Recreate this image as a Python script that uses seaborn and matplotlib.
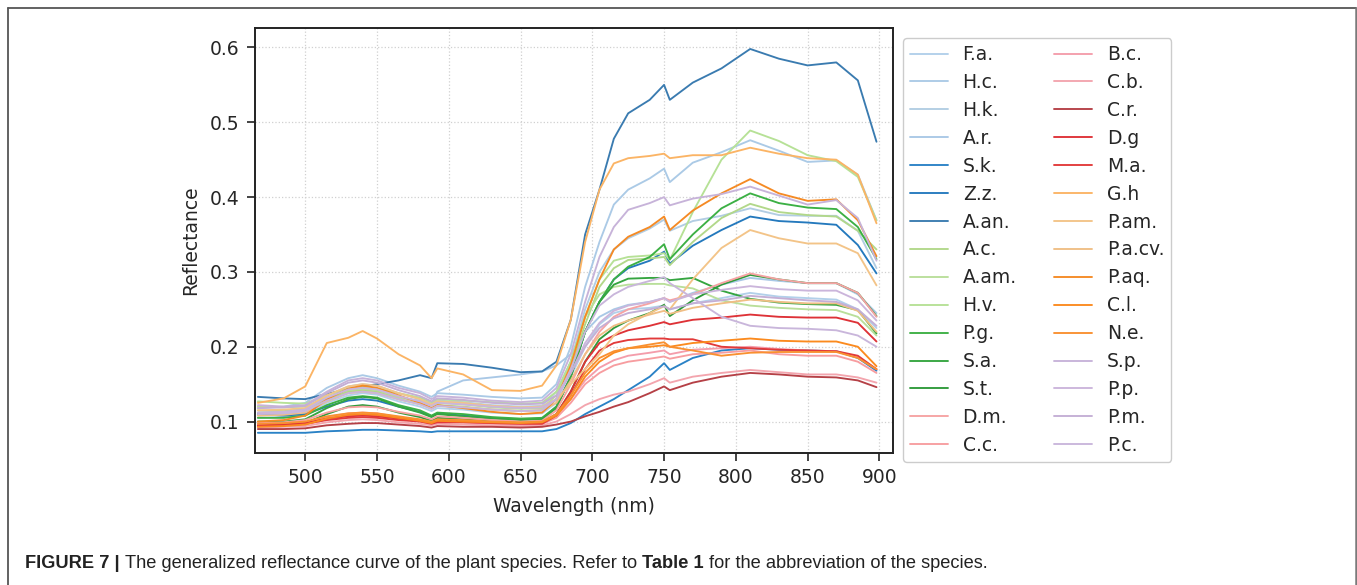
import numpy as np
import pandas as pd
import matplotlib
matplotlib.use("Agg")
import matplotlib.pyplot as plt
import seaborn as sns
from matplotlib.lines import Line2D

# ---------------- data ----------------
wavelength = [467, 485, 500, 515, 530, 540, 550, 565, 580, 588, 592, 610, 630, 650, 665,
              675, 685, 695, 705, 715, 725, 740, 750, 754, 770, 790, 810, 830, 850, 870, 885, 898]

species = ["F.a.", "H.c.", "H.k.", "A.r.", "S.k.", "Z.z.", "A.an.", "A.c.", "A.am.", "H.v.",
           "P.g.", "S.a.", "S.t.", "D.m.", "C.c.", "B.c.", "C.b.", "C.r.", "D.g", "M.a.",
           "G.h", "P.am.", "P.a.cv.", "P.aq.", "C.l.", "N.e.", "S.p.", "P.p.", "P.m.", "P.c."]

fa = [0.105,0.106,0.110,0.125,0.135,0.138,0.136,0.127,0.120,0.114,0.118,0.116,0.112,0.110,0.111,
      0.125,0.160,0.200,0.230,0.245,0.250,0.252,0.255,0.250,0.258,0.265,0.272,0.267,0.265,0.263,0.250,0.225]
hc = [0.118,0.120,0.125,0.145,0.158,0.162,0.158,0.148,0.140,0.133,0.138,0.136,0.133,0.131,0.132,
      0.150,0.200,0.280,0.340,0.390,0.410,0.425,0.438,0.420,0.446,0.460,0.476,0.462,0.447,0.449,0.430,0.369]
hk = [0.112,0.113,0.117,0.135,0.147,0.150,0.148,0.138,0.130,0.124,0.128,0.126,0.122,0.120,0.121,
      0.140,0.180,0.250,0.300,0.330,0.345,0.358,0.370,0.355,0.368,0.375,0.385,0.376,0.375,0.375,0.355,0.305]
ar = [0.108,0.110,0.115,0.130,0.140,0.142,0.140,0.132,0.128,0.122,0.140,0.155,0.159,0.163,0.167,
      0.175,0.190,0.220,0.240,0.250,0.256,0.260,0.265,0.260,0.272,0.283,0.292,0.288,0.285,0.285,0.270,0.245]
sk = [0.085,0.085,0.085,0.087,0.088,0.089,0.089,0.088,0.087,0.086,0.087,0.087,0.087,0.087,0.087,
      0.090,0.098,0.110,0.120,0.130,0.142,0.160,0.178,0.169,0.185,0.195,0.198,0.196,0.195,0.194,0.185,0.168]
zz = [0.110,0.108,0.110,0.120,0.128,0.130,0.128,0.120,0.113,0.107,0.111,0.108,0.105,0.103,0.104,
      0.120,0.160,0.220,0.260,0.290,0.305,0.315,0.327,0.311,0.335,0.356,0.374,0.368,0.366,0.363,0.336,0.298]
aan = [0.133,0.131,0.130,0.137,0.143,0.147,0.150,0.155,0.162,0.158,0.178,0.177,0.172,0.166,0.167,
       0.180,0.236,0.350,0.410,0.478,0.512,0.530,0.550,0.530,0.553,0.572,0.598,0.585,0.576,0.580,0.556,0.474]
ac = [0.115,0.114,0.116,0.130,0.140,0.142,0.140,0.130,0.124,0.118,0.122,0.120,0.116,0.114,0.115,
      0.130,0.170,0.230,0.280,0.305,0.316,0.318,0.320,0.309,0.340,0.372,0.391,0.380,0.376,0.374,0.355,0.330]
aam = [0.120,0.119,0.120,0.132,0.142,0.144,0.142,0.133,0.127,0.121,0.125,0.123,0.119,0.117,0.118,
       0.135,0.180,0.240,0.270,0.280,0.283,0.284,0.284,0.282,0.278,0.262,0.255,0.252,0.250,0.249,0.240,0.215]
hv = [0.127,0.125,0.124,0.135,0.144,0.146,0.144,0.138,0.132,0.126,0.130,0.128,0.126,0.124,0.125,
      0.140,0.180,0.240,0.290,0.315,0.320,0.322,0.325,0.316,0.380,0.450,0.489,0.475,0.456,0.448,0.427,0.369]
pg = [0.105,0.105,0.108,0.122,0.132,0.134,0.132,0.122,0.115,0.108,0.112,0.110,0.106,0.104,0.105,
      0.120,0.160,0.220,0.260,0.290,0.307,0.320,0.337,0.317,0.350,0.385,0.405,0.392,0.386,0.384,0.360,0.317]
sa = [0.100,0.100,0.103,0.118,0.130,0.133,0.131,0.120,0.112,0.106,0.110,0.107,0.104,0.102,0.103,
      0.118,0.160,0.220,0.260,0.283,0.291,0.292,0.292,0.289,0.292,0.275,0.264,0.259,0.257,0.256,0.249,0.218]
st = [0.095,0.096,0.098,0.110,0.120,0.122,0.120,0.112,0.106,0.101,0.105,0.103,0.100,0.098,0.099,
      0.110,0.140,0.180,0.210,0.225,0.235,0.245,0.256,0.241,0.262,0.283,0.296,0.290,0.285,0.285,0.272,0.241]
dm = [0.098,0.099,0.102,0.112,0.119,0.120,0.119,0.113,0.108,0.103,0.107,0.105,0.102,0.100,0.101,
      0.115,0.150,0.190,0.220,0.240,0.250,0.258,0.265,0.262,0.270,0.285,0.298,0.290,0.285,0.285,0.272,0.240]
cc = [0.093,0.094,0.096,0.103,0.108,0.109,0.108,0.104,0.100,0.097,0.100,0.099,0.097,0.096,0.097,
      0.105,0.125,0.150,0.165,0.175,0.180,0.184,0.187,0.184,0.190,0.192,0.195,0.190,0.188,0.188,0.180,0.165]
bc = [0.096,0.097,0.099,0.106,0.111,0.112,0.111,0.106,0.102,0.099,0.102,0.101,0.099,0.098,0.099,
      0.108,0.130,0.155,0.172,0.182,0.188,0.192,0.195,0.190,0.196,0.198,0.200,0.197,0.195,0.194,0.186,0.170]
cb = [0.092,0.093,0.094,0.099,0.102,0.103,0.102,0.099,0.097,0.095,0.097,0.096,0.095,0.094,0.095,
      0.100,0.110,0.122,0.130,0.136,0.140,0.150,0.158,0.152,0.160,0.165,0.169,0.166,0.163,0.163,0.159,0.152]
cr = [0.090,0.090,0.091,0.095,0.097,0.098,0.098,0.096,0.094,0.092,0.094,0.093,0.093,0.092,0.093,
      0.096,0.100,0.107,0.113,0.120,0.126,0.138,0.147,0.142,0.152,0.160,0.165,0.163,0.160,0.159,0.155,0.146]
dg = [0.095,0.096,0.098,0.104,0.107,0.108,0.107,0.104,0.101,0.098,0.101,0.100,0.099,0.098,0.098,
      0.110,0.140,0.180,0.205,0.215,0.222,0.228,0.233,0.230,0.236,0.239,0.243,0.240,0.239,0.239,0.232,0.207]
ma = [0.094,0.095,0.097,0.102,0.105,0.106,0.105,0.102,0.100,0.097,0.099,0.099,0.098,0.097,0.097,
      0.108,0.135,0.170,0.195,0.205,0.209,0.211,0.211,0.210,0.210,0.200,0.198,0.196,0.195,0.194,0.188,0.170]
gh = [0.125,0.131,0.147,0.205,0.212,0.221,0.211,0.190,0.175,0.158,0.171,0.163,0.142,0.141,0.148,
      0.175,0.236,0.340,0.410,0.445,0.452,0.455,0.458,0.452,0.456,0.456,0.466,0.458,0.452,0.450,0.430,0.365]
pam = [0.115,0.116,0.118,0.135,0.147,0.150,0.148,0.138,0.130,0.123,0.127,0.125,0.121,0.119,0.120,
       0.130,0.150,0.170,0.190,0.215,0.230,0.245,0.254,0.250,0.290,0.332,0.356,0.345,0.338,0.338,0.325,0.282]
pacv = [0.108,0.109,0.112,0.127,0.138,0.140,0.138,0.130,0.123,0.117,0.121,0.119,0.116,0.114,0.115,
        0.125,0.155,0.190,0.215,0.228,0.235,0.243,0.248,0.244,0.252,0.258,0.263,0.260,0.258,0.258,0.248,0.220]
paq = [0.100,0.102,0.108,0.130,0.144,0.148,0.145,0.135,0.125,0.118,0.122,0.118,0.113,0.110,0.112,
       0.130,0.175,0.240,0.290,0.330,0.347,0.360,0.374,0.356,0.382,0.405,0.424,0.405,0.395,0.397,0.369,0.321]
cl = [0.093,0.094,0.096,0.104,0.109,0.110,0.109,0.105,0.101,0.098,0.101,0.100,0.099,0.098,0.099,
      0.108,0.130,0.160,0.180,0.192,0.198,0.200,0.202,0.200,0.205,0.208,0.211,0.208,0.207,0.207,0.200,0.174]
ne = [0.097,0.098,0.100,0.107,0.111,0.112,0.111,0.107,0.103,0.100,0.103,0.102,0.100,0.099,0.100,
      0.110,0.135,0.165,0.185,0.194,0.198,0.203,0.206,0.200,0.195,0.188,0.192,0.193,0.193,0.193,0.185,0.170]
sp = [0.122,0.120,0.122,0.140,0.155,0.158,0.155,0.145,0.138,0.130,0.134,0.132,0.128,0.126,0.128,
      0.145,0.190,0.260,0.320,0.360,0.383,0.392,0.400,0.389,0.398,0.404,0.414,0.402,0.390,0.396,0.372,0.315]
pp = [0.112,0.113,0.116,0.132,0.143,0.145,0.143,0.134,0.127,0.121,0.125,0.123,0.120,0.118,0.119,
      0.130,0.165,0.205,0.232,0.248,0.255,0.260,0.265,0.260,0.270,0.276,0.281,0.277,0.275,0.275,0.262,0.235]
pm = [0.118,0.119,0.121,0.138,0.152,0.155,0.152,0.142,0.134,0.127,0.131,0.129,0.125,0.123,0.124,
      0.135,0.165,0.200,0.225,0.238,0.245,0.250,0.254,0.250,0.258,0.262,0.268,0.265,0.262,0.260,0.250,0.228]
pc = [0.110,0.111,0.114,0.128,0.138,0.140,0.138,0.130,0.123,0.117,0.121,0.119,0.116,0.114,0.115,
      0.130,0.170,0.220,0.255,0.270,0.280,0.288,0.293,0.285,0.265,0.240,0.228,0.225,0.224,0.222,0.215,0.200]

series = [fa, hc, hk, ar, sk, zz, aan, ac, aam, hv, pg, sa, st, dm, cc,
          bc, cb, cr, dg, ma, gh, pam, pacv, paq, cl, ne, sp, pp, pm, pc]

x_ticks = [500, 550, 600, 650, 700, 750, 800, 850, 900]
y_ticks = [0.1, 0.2, 0.3, 0.4, 0.5, 0.6]

# ---------------- styles ----------------
colors = ["#b2d0ea", "#abcae6", "#b2cde3", "#a9c8e6",
          "#2a82c6", "#2479bd", "#3a7bb0",
          "#b2d88a", "#b9df9a", "#b6e196",
          "#3cb044", "#35a540", "#2f9a3a",
          "#f6a3a3", "#f79da0", "#f49dab", "#f3a5ae",
          "#b54046", "#de3237", "#e23a3a",
          "#fbb465", "#f3c488", "#f0be85",
          "#f58a24", "#fb8a1e", "#f99030",
          "#c7b3d9", "#cbb5db", "#c4afd5", "#c9b6db"]
palette = dict(zip(species, colors))

W, H = 1357, 585
fig = plt.figure(figsize=(W / 100, H / 100), dpi=100)
sns.set_style("white")
plt.rcParams["font.family"] = ["DejaVu Sans"]
FS = 13.5
TXT = "#262626"

ax = fig.add_axes([255 / W, 1 - 453 / H, (893 - 255) / W, (453 - 28) / H])

df = pd.DataFrame({
    "Wavelength": np.tile(wavelength, len(species)),
    "Reflectance": np.concatenate([np.array(s) for s in series]),
    "Species": np.repeat(species, len(wavelength)),
})
sns.lineplot(data=df, x="Wavelength", y="Reflectance", hue="Species", hue_order=species,
             palette=palette, estimator=None, sort=False, linewidth=1.35, ax=ax, legend=True)

ax.get_legend().remove()

ax.set_xlim(465, 909.5)
ax.set_ylim(0.058, 0.626)
ax.set_xticks(x_ticks)
ax.set_yticks(y_ticks)
ax.set_yticklabels([f"{v:.1f}" for v in y_ticks])
ax.grid(True, color="#d0d0d0", linestyle=":", linewidth=0.9)
for s in ax.spines.values():
    s.set_color("#222222")
    s.set_linewidth(1.4)
ax.tick_params(axis="both", direction="out", length=6, width=1.2, color="#222222",
               labelsize=FS, pad=5, labelcolor=TXT, bottom=True, left=True)
ax.set_xlabel("Wavelength (nm)", fontsize=FS, color=TXT, labelpad=7)
ax.set_ylabel("Reflectance", fontsize=FS, color=TXT, labelpad=7)

leg_handles = [Line2D([0], [0], color=palette[s], lw=1.35) for s in species]
fig.legend(leg_handles, species, loc="upper left",
           bbox_to_anchor=(903 / W, 1 - 38 / H), ncol=2, fontsize=FS,
           frameon=True, fancybox=True, edgecolor="#cccccc", framealpha=1,
           handlelength=2.0, handletextpad=0.8, columnspacing=2.0,
           labelspacing=0.475, borderpad=0.38, borderaxespad=0)

# figure frame
fr = dict(color="#555555", linewidth=1.3, transform=fig.transFigure, clip_on=False)
fig.add_artist(Line2D([8 / W, 8 / W], [0, 1 - 8 / H], **fr))
fig.add_artist(Line2D([8 / W, 1355.5 / W], [1 - 8 / H, 1 - 8 / H], **fr))
fig.add_artist(Line2D([1355.5 / W, 1355.5 / W], [0, 1 - 8 / H], color="#7a7a7a",
                      linewidth=1.8, transform=fig.transFigure, clip_on=False))

# caption
cap_family = ["Liberation Sans Narrow", "DejaVu Sans Condensed", "Liberation Sans", "DejaVu Sans"]
parts = [("FIGURE 7 |", "bold"),
         ("The generalized reflectance curve of the plant species. Refer to", "normal"),
         ("Table 1", "bold"),
         ("for the abbreviation of the species.", "normal")]
fig.canvas.draw()
renderer = fig.canvas.get_renderer()
x0, x_end, y_cap = 25.0, 987.0, 563.0


def layout(size, draw):
    sp1 = fig.text(0, 0, "x x", family=cap_family, fontsize=size)
    sp2 = fig.text(0, 0, "xx", family=cap_family, fontsize=size)
    gap = sp1.get_window_extent(renderer).width - sp2.get_window_extent(renderer).width
    sp1.remove(); sp2.remove()
    x = x0
    for txt, wt in parts:
        t = fig.text(x / W, 1 - y_cap / H, txt, family=cap_family, fontsize=size,
                     weight=wt, color="#222222", va="center", ha="left")
        w = t.get_window_extent(renderer).width
        if not draw:
            t.remove()
        x += w + gap
    return x - gap


cap_size = 12.0
total = layout(cap_size, False)
cap_size = cap_size * (x_end - x0) / (total - x0)
layout(cap_size, True)

fig.savefig("out.png", dpi=100)
